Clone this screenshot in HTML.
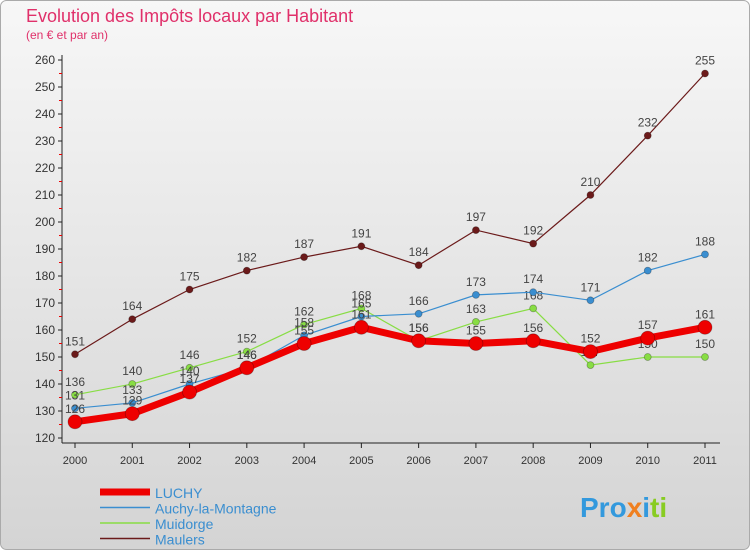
<!DOCTYPE html>
<html><head><meta charset="utf-8"><style>
body{margin:0;width:750px;height:550px;overflow:hidden;font-family:"Liberation Sans",sans-serif}
</style></head><body>
<svg id="c" width="750" height="550" xmlns="http://www.w3.org/2000/svg">
<defs><linearGradient id="bg" x1="0" y1="0" x2="0" y2="1"><stop offset="0" stop-color="#f7f7f7"/><stop offset="1" stop-color="#d4d4d4"/></linearGradient></defs>
<rect x="0.5" y="0.5" width="749" height="549" rx="6" fill="url(#bg)" stroke="#aaa"/>
<text x="26" y="22" font-size="18" fill="#e0306a">Evolution des Impôts locaux par Habitant</text>
<text x="26" y="39" font-size="12" fill="#e0306a">(en € et par an)</text>
<g id="axes"></g><g id="series"></g><g id="legend"></g>
<text x="580" y="517" font-size="28" font-weight="bold" fill="#3399dd">Pro<tspan fill="#f08020">x</tspan><tspan fill="#3399dd">i</tspan><tspan fill="#88cc22">ti</tspan></text>
</svg>
<script>
const years=["2000","2001","2002","2003","2004","2005","2006","2007","2008","2009","2010","2011"];
const luchy=[126,129,137,146,155,161,156,155,156,152,157,161];
const auchy=[131,133,140,146,158,165,166,173,174,171,182,188];
const muidorge=[136,140,146,152,162,168,156,163,168,147,150,150];
const maulers=[151,164,175,182,187,191,184,197,192,210,232,255];
const yTicks=[120,130,140,150,160,170,180,190,200,210,220,230,240,250,260];
const NS="http://www.w3.org/2000/svg";
const X=i=>75+i*(630/11);
const Y=v=>438-(v-120)*2.7;
function el(t,a,p){const e=document.createElementNS(NS,t);for(const k in a)e.setAttribute(k,a[k]);p.appendChild(e);return e;}
const ax=document.getElementById('axes');
let l=el('line',{x1:62,y1:55,x2:62,y2:443,stroke:'#222'},ax);


l=el('line',{x1:62,y1:443,x2:720,y2:443,stroke:'#222'},ax);


yTicks.forEach(v=>{
 el('line',{x1:58,y1:Y(v),x2:62,y2:Y(v),stroke:'#222'},ax);
 if(v<260)el('line',{x1:59,y1:Y(v+5),x2:62,y2:Y(v+5),stroke:'#e00'},ax);
 const t=el('text',{x:55,y:Y(v)+4,'font-size':12,fill:'#333','text-anchor':'end'},ax);t.textContent=v;
 
 
});
years.forEach((y,i)=>{
 el('line',{x1:X(i),y1:443,x2:X(i),y2:448,stroke:'#222'},ax);
 const t=el('text',{x:X(i),y:464,'font-size':11,fill:'#333','text-anchor':'middle'},ax);t.textContent=y;
 
 
});
const S=document.getElementById('series');
const series=[
 {n:'maulers',d:maulers,c:'#6b1a1a',w:1.2,r:3.5},
 {n:'muidorge',d:muidorge,c:'#88dd44',w:1.2,r:3.5},
 {n:'auchy',d:auchy,c:'#3a8ed0',w:1.2,r:3.5},
 {n:'luchy',d:luchy,c:'#ee0000',w:7,r:7}];
series.forEach(s=>{
 const p=el('polyline',{points:s.d.map((v,i)=>X(i)+','+Y(v)).join(' '),fill:'none',stroke:s.c,'stroke-width':s.w},S);
 
 
 s.d.forEach((v,i)=>{
  const c=el('circle',{cx:X(i),cy:Y(v),r:s.r,fill:s.c,stroke:'rgba(0,0,0,0.3)','stroke-width':0.8},S);
  
  
  const t=el('text',{x:X(i),y:Y(v)-9,'font-size':12,fill:'#444','text-anchor':'middle'},S);t.textContent=v;
  
  
 });
});
const L=document.getElementById('legend');
[['LUCHY','#ee0000',7],['Auchy-la-Montagne','#3a8ed0',1.5],['Muidorge','#88dd44',1.5],['Maulers','#6b1a1a',1.5]].forEach((e,i)=>{
 const y=492+i*15.5;
 const ln=el('line',{x1:100,y1:y,x2:150,y2:y,stroke:e[1],'stroke-width':e[2]},L);
 
 
 const t=el('text',{x:155,y:y+6,'font-size':14,fill:'#3a8ed0'},L);t.textContent=e[0];
 
 
});
</script>
</body></html>
